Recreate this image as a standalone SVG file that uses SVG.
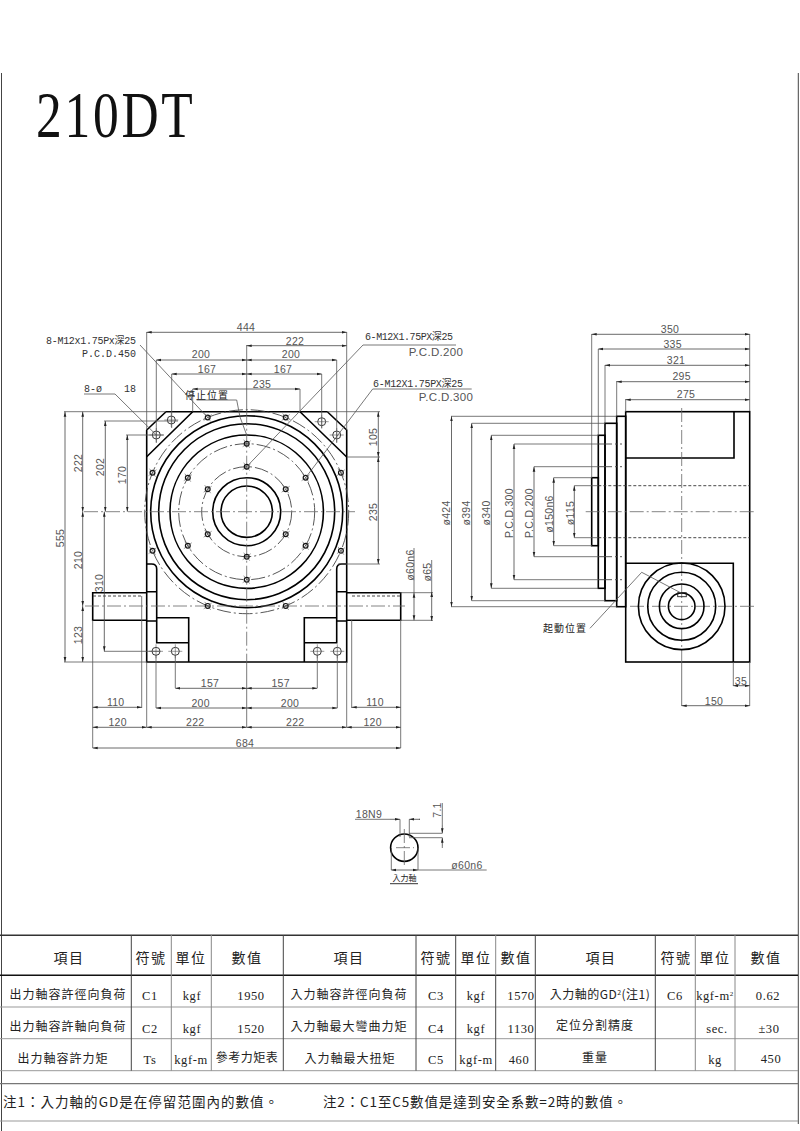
<svg xmlns="http://www.w3.org/2000/svg" xmlns:xlink="http://www.w3.org/1999/xlink" width="800" height="1131" viewBox="0 0 800 1131">
<style>
.o{fill:none;stroke:#000;stroke-width:1.6}
.t{fill:none;stroke:#555;stroke-width:.8}
.a{fill:none;stroke:#444;stroke-width:.8;marker-start:url(#ar);marker-end:url(#ar)}
.e{fill:none;stroke:#444;stroke-width:.8;marker-end:url(#ar)}
.c{fill:none;stroke:#666;stroke-width:.8;stroke-dasharray:14 3 2 3}
.h{fill:none;stroke:#333;stroke-width:.9;stroke-dasharray:3 2}
.p{fill:none;stroke:#444;stroke-width:.9;stroke-dasharray:14 3 2 3}
.dm{font-family:"Liberation Sans",sans-serif;font-size:10.5px;letter-spacing:.3px;fill:#555;text-anchor:middle}
.lb{font-family:"Liberation Mono","Noto Sans CJK TC",monospace;font-size:10px;fill:#333}
.cj{font-family:"Noto Sans CJK TC",sans-serif;fill:#222;text-anchor:middle;font-size:12px;letter-spacing:1px}
.hd{font-size:14px;letter-spacing:1.5px}
.lt{font-family:"Liberation Serif",serif;fill:#222;text-anchor:middle;font-size:12.5px;letter-spacing:.6px}
.r1{stroke:#999;stroke-width:1;fill:none}
.v1{stroke:#444;stroke-width:1;fill:none}
.v2{stroke:#888;stroke-width:1;fill:none}
</style>
<defs>
<marker id="ar" viewBox="0 -2 6 4" refX="5" refY="0" markerWidth="6" markerHeight="4" markerUnits="userSpaceOnUse" orient="auto-start-reverse"><path d="M0 -1.3L5 0L0 1.3z" fill="#222"/></marker>
<g id="hole"><circle r="2.4" fill="none" stroke="#111" stroke-width="1.2"/><path d="M-4 3L4 -3M-3 -4L3 4" stroke="#555" stroke-width=".6"/></g>
<g id="mount"><circle r="4" fill="none" stroke="#222" stroke-width=".9"/><path d="M-7 0H7M0 -7V7" stroke="#555" stroke-width=".6"/></g>
</defs>

<g id="frame">
<path class="v1" d="M1.5 73V1131"/>
<path class="v1" d="M798.3 73V1124"/>
</g>

<text id="title" transform="translate(36 137) scale(.78 1)" font-family="'Liberation Serif',serif" font-size="66" letter-spacing="3.5" fill="#111">210DT</text>

<g id="front-view">
<path class="o" d="M146.7 662V430L166 411.7H327.3L346.7 430V662Z"/>
<path class="o" d="M192.7 411.7L146.7 456.7M300 411.7L346.7 457"/>
<path class="o" d="M146.7 564H151.5Q156.7 564 156.7 569V642.7H188.7V617.7H156.7M188.7 642.7V662"/>
<path class="o" d="M346.7 564H341.9Q336.7 564 336.7 569V642.7H304.3V617.7H336.7M304.3 642.7V662"/>
<path class="o" d="M146.7 591.7H156.7M146.7 621H156.7M336.7 591.7H346.7M336.7 621H346.7"/>
<path class="o" d="M146.7 592.7H92.7V620.3H146.7M346.7 592.7H400.7V620.3H346.7"/>
<path class="h" d="M93 596H141M352 596H400"/>
<g class="o">
<circle cx="246.7" cy="511.7" r="25.7"/>
<circle cx="246.7" cy="511.7" r="34"/>
<circle cx="246.7" cy="511.7" r="76.7"/>
<circle cx="246.7" cy="511.7" r="88"/>
<circle cx="246.7" cy="511.7" r="96"/>
</g>
<g class="p">
<circle cx="246.7" cy="511.7" r="45"/>
<circle cx="246.7" cy="511.7" r="68"/>
<circle cx="246.7" cy="511.7" r="102"/>
</g>
<path class="c" d="M84 511.7H355M85 606H405M246.7 411.7V662"/>
<use xlink:href="#hole" href="#hole" x="207.7" y="417.5"/>
<use xlink:href="#hole" href="#hole" x="285.7" y="417.5"/>
<use xlink:href="#hole" href="#hole" x="152.5" y="472.7"/>
<use xlink:href="#hole" href="#hole" x="340.9" y="472.7"/>
<use xlink:href="#hole" href="#hole" x="152.5" y="550.7"/>
<use xlink:href="#hole" href="#hole" x="340.9" y="550.7"/>
<use xlink:href="#hole" href="#hole" x="207.7" y="605.9"/>
<use xlink:href="#hole" href="#hole" x="285.7" y="605.9"/>
<use xlink:href="#hole" href="#hole" x="246.7" y="443.7"/>
<use xlink:href="#hole" href="#hole" x="246.7" y="579.7"/>
<use xlink:href="#hole" href="#hole" x="187.8" y="477.7"/>
<use xlink:href="#hole" href="#hole" x="305.6" y="477.7"/>
<use xlink:href="#hole" href="#hole" x="187.8" y="545.7"/>
<use xlink:href="#hole" href="#hole" x="305.6" y="545.7"/>
<use xlink:href="#hole" href="#hole" x="246.7" y="466.7"/>
<use xlink:href="#hole" href="#hole" x="246.7" y="556.7"/>
<use xlink:href="#hole" href="#hole" x="207.7" y="489.2"/>
<use xlink:href="#hole" href="#hole" x="285.7" y="489.2"/>
<use xlink:href="#hole" href="#hole" x="207.7" y="534.2"/>
<use xlink:href="#hole" href="#hole" x="285.7" y="534.2"/>
<use xlink:href="#mount" href="#mount" x="156.3" y="435"/>
<use xlink:href="#mount" href="#mount" x="171.3" y="420"/>
<use xlink:href="#mount" href="#mount" x="321.7" y="421.7"/>
<use xlink:href="#mount" href="#mount" x="336.7" y="435"/>
<use xlink:href="#mount" href="#mount" x="156" y="651.3"/>
<use xlink:href="#mount" href="#mount" x="175.3" y="651.3"/>
<use xlink:href="#mount" href="#mount" x="317.3" y="651.3"/>
<use xlink:href="#mount" href="#mount" x="337.3" y="651.3"/>
</g>

<g id="side-view">
<rect class="o" x="625.7" y="411.7" width="124" height="250.3"/>
<rect class="o" x="616.7" y="416.3" width="9" height="190.4"/>
<rect class="o" x="605" y="423.3" width="11.7" height="177.4"/>
<rect class="o" x="598.3" y="435.3" width="6.7" height="153"/>
<rect class="o" x="591.7" y="477.7" width="6.6" height="68"/>
<path class="o" d="M625.7 458H734V411.7M625.7 563.3H733.3V662"/>
<path class="h" d="M598.3 485.7H749.7M598.3 537.7H749.7"/>
<path class="p" d="M598 444H622M598 466.7H622M598 556.7H622M598 579.7H622"/>
<path class="c" d="M585.7 511.7H756.7M681.7 408V662M630 606.3H756"/>
<g class="o">
<circle cx="681.7" cy="606.3" r="43.3"/>
<circle cx="681.7" cy="606.3" r="34"/>
<circle cx="681.7" cy="606.3" r="22.3"/>
<circle cx="681.7" cy="606.3" r="13.3"/>
</g>
<rect x="677.7" y="592.7" width="8.6" height="4" fill="none" stroke="#222" stroke-width=".9"/>
</g>

<g id="key-detail">
<circle class="o" cx="404.3" cy="847.7" r="13.7"/>
<path class="c" d="M396 847.7H414M404.3 829V866"/>
<path class="t" d="M400 819.3V837M409.3 819.3V837"/>
<path class="t" d="M355 819.3H390M419 819.3H420"/>
<path class="t" d="M409 833.3H442.3M409 837.7H442.3"/>
<path class="t" d="M442.3 803V825M442.3 846V848M391.3 848V870M418 848V870"/>
<path class="t" d="M418 870H486.7"/>
<line class="e" x1="390" y1="819.3" x2="400" y2="819.3"/>
<line class="e" x1="420" y1="819.3" x2="409.3" y2="819.3"/>
<line class="e" x1="442.3" y1="825" x2="442.3" y2="833.3"/>
<line class="e" x1="442.3" y1="846" x2="442.3" y2="837.7"/>
<line class="a" x1="391.3" y1="870" x2="418" y2="870"/>
<path d="M390 883.7H418" stroke="#333" stroke-width="1" fill="none"/>
<text class="dm" x="369" y="818" letter-spacing="1">18N9</text>
<text class="dm" transform="translate(441 810) rotate(-90)">7.1</text>
<text class="dm" x="467" y="869">ø60n6</text>
<text x="404.5" y="881" font-family="'Noto Sans CJK TC',sans-serif" font-size="8" fill="#222" text-anchor="middle">入力軸</text>
</g>

<g id="connectors">
<g class="t">
<path d="M146.7 332V430M346.7 332V430M156.3 360V443M336.7 360V443M171.7 374V428M321.7 374V428M192.7 389V411.7M300 389V411.7M246.7 345V411.7"/>
<path d="M64 411.7H166M104 421H178M126 435H164M327 411.7H380M347 457H380M338 564H380"/>
<path d="M64 662H147M104 651.3H160"/>
<path d="M92.7 620V748M400.7 620V748M141.7 596V708M351.7 620V708M146.7 662V727M346.7 662V727M156 655V708M175.3 655V688M317.3 655V688M337.3 655V708M246.7 662V727"/>
<path d="M400 592.7H433M400 620.3H433M414 548V592.7M431.7 560V592.7"/>
<path d="M591.7 334V478M598.3 349V435M605 365V423M616.7 381V416M625.7 399V412M749.7 334V411M733.3 662V686M749.7 662V706M681.7 662V706"/>
<path d="M451 416.3H616.7M471.7 423.3H605M491.3 435.3H598.3M514 444H598M534 466.7H598M553.7 477.7H592M574.3 485.7H598M574.3 537.7H598M553.7 545.7H592M534 556.7H598M514 579.7H598M491.3 588.3H598.3M471.7 600.7H605M451 606.7H616.7"/>
<path d="M140 345L207.7 417.5M84 394H115L156.3 435M196.7 400H236.7L240 417L246.7 435"/>
<path d="M456 345H363L246.7 466.7M471.7 389H372.7L305.6 477.7"/>
<path d="M590 628.3L641.7 572.3L681.7 593.3"/>
</g>
<line class="a" x1="146.7" y1="332.3" x2="346.7" y2="332.3"/>
<line class="a" x1="246.7" y1="345.7" x2="346.7" y2="345.7"/>
<line class="a" x1="156.3" y1="360" x2="246.7" y2="360"/>
<line class="a" x1="246.7" y1="360" x2="336.7" y2="360"/>
<line class="a" x1="171.7" y1="374" x2="246.7" y2="374"/>
<line class="a" x1="246.7" y1="374" x2="321.7" y2="374"/>
<line class="a" x1="192.7" y1="389" x2="300" y2="389"/>
<line class="a" x1="65" y1="411.7" x2="65" y2="662"/>
<line class="a" x1="82.7" y1="411.7" x2="82.7" y2="511.7"/>
<line class="a" x1="82.7" y1="511.7" x2="82.7" y2="606"/>
<line class="a" x1="82.7" y1="606" x2="82.7" y2="662"/>
<line class="a" x1="105.3" y1="421" x2="105.3" y2="511.7"/>
<line class="a" x1="127.3" y1="435" x2="127.3" y2="511.7"/>
<line class="a" x1="104.3" y1="511.7" x2="104.3" y2="651.3"/>
<line class="a" x1="378.3" y1="411.7" x2="378.3" y2="457"/>
<line class="a" x1="378.3" y1="457" x2="378.3" y2="564"/>
<line class="a" x1="414" y1="592.7" x2="414" y2="620.3"/>
<line class="a" x1="431.7" y1="592" x2="431.7" y2="621"/>
<line class="a" x1="175.3" y1="688.3" x2="246.7" y2="688.3"/>
<line class="a" x1="246.7" y1="688.3" x2="317.3" y2="688.3"/>
<line class="a" x1="156" y1="708" x2="246.7" y2="708"/>
<line class="a" x1="246.7" y1="708" x2="337.3" y2="708"/>
<line class="a" x1="92.7" y1="707.3" x2="141.7" y2="707.3"/>
<line class="a" x1="351.7" y1="707.3" x2="400.7" y2="707.3"/>
<line class="a" x1="92.7" y1="727.3" x2="146.7" y2="727.3"/>
<line class="a" x1="146.7" y1="727.3" x2="246.7" y2="727.3"/>
<line class="a" x1="246.7" y1="727.3" x2="346.7" y2="727.3"/>
<line class="a" x1="346.7" y1="727.3" x2="400.7" y2="727.3"/>
<line class="a" x1="92.7" y1="748" x2="400.7" y2="748"/>
<line class="a" x1="591.7" y1="334.3" x2="749.7" y2="334.3"/>
<line class="a" x1="598.3" y1="349" x2="749.7" y2="349"/>
<line class="a" x1="605" y1="365.3" x2="749.7" y2="365.3"/>
<line class="a" x1="616.7" y1="381.7" x2="749.7" y2="381.7"/>
<line class="a" x1="625.7" y1="399.7" x2="749.7" y2="399.7"/>
<line class="a" x1="451.5" y1="416.3" x2="451.5" y2="606.7"/>
<line class="a" x1="471.7" y1="423.3" x2="471.7" y2="600.7"/>
<line class="a" x1="491.3" y1="435.3" x2="491.3" y2="588.3"/>
<line class="a" x1="514" y1="444" x2="514" y2="579.7"/>
<line class="a" x1="534" y1="466.7" x2="534" y2="556.7"/>
<line class="a" x1="553.7" y1="477.7" x2="553.7" y2="545.7"/>
<line class="a" x1="574.3" y1="485.7" x2="574.3" y2="537.7"/>
<line class="a" x1="733.3" y1="685.7" x2="749.7" y2="685.7"/>
<line class="a" x1="681.7" y1="705.7" x2="749.7" y2="705.7"/>
</g>

<g id="labels">
<text class="dm" x="246" y="331">444</text>
<text class="dm" x="295" y="345">222</text>
<text class="dm" x="201" y="358">200</text>
<text class="dm" x="291" y="358">200</text>
<text class="dm" x="207" y="372.5">167</text>
<text class="dm" x="283" y="372.5">167</text>
<text class="dm" x="262" y="388">235</text>
<text class="dm" transform="translate(64 538) rotate(-90)">555</text>
<text class="dm" transform="translate(82 463) rotate(-90)">222</text>
<text class="dm" transform="translate(104 467) rotate(-90)">202</text>
<text class="dm" transform="translate(126 475) rotate(-90)">170</text>
<text class="dm" transform="translate(82 560) rotate(-90)">210</text>
<text class="dm" transform="translate(82 635) rotate(-90)">123</text>
<text class="dm" transform="translate(103 583) rotate(-90)">310</text>
<text class="dm" transform="translate(377 437) rotate(-90)">105</text>
<text class="dm" transform="translate(377 512) rotate(-90)">235</text>
<text class="dm" transform="translate(414 565) rotate(-90)">ø60n6</text>
<text class="dm" transform="translate(431 572) rotate(-90)">ø65</text>
<text class="dm" x="210" y="687">157</text>
<text class="dm" x="280.7" y="687">157</text>
<text class="dm" x="200.7" y="706.5">200</text>
<text class="dm" x="290" y="706.5">200</text>
<text class="dm" x="115.7" y="706">110</text>
<text class="dm" x="375" y="706">110</text>
<text class="dm" x="117.7" y="726">120</text>
<text class="dm" x="195.3" y="726">222</text>
<text class="dm" x="295.3" y="726">222</text>
<text class="dm" x="372.7" y="726">120</text>
<text class="dm" x="245" y="747">684</text>
<text class="dm" x="670" y="333">350</text>
<text class="dm" x="672.7" y="347.5">335</text>
<text class="dm" x="676" y="364">321</text>
<text class="dm" x="681.7" y="380">295</text>
<text class="dm" x="686" y="398">275</text>
<text class="dm" transform="translate(450 513) rotate(-90)">ø424</text>
<text class="dm" transform="translate(470 513) rotate(-90)">ø394</text>
<text class="dm" transform="translate(490 513) rotate(-90)">ø340</text>
<text class="dm" transform="translate(513 513) rotate(-90)">P.C.D.300</text>
<text class="dm" transform="translate(533 513) rotate(-90)">P.C.D.200</text>
<text class="dm" transform="translate(553 514) rotate(-90)">ø150n6</text>
<text class="dm" transform="translate(574 513) rotate(-90)">ø115</text>
<text class="dm" x="741" y="685">35</text>
<text class="dm" x="714" y="705">150</text>
<text class="lb" x="46" y="344" textLength="90">8-M12x1.75Px深25</text>
<text class="lb" x="136" y="356.7" text-anchor="end">P.C.D.450</text>
<text class="lb" x="84" y="391.5">8-ø</text>
<text class="lb" x="124" y="391.5">18</text>
<text class="lb" x="365" y="340" textLength="88">6-M12X1.75PX深25</text>
<text class="dm" x="436" y="356" style="font-size:11.5px">P.C.D.200</text>
<text class="lb" x="373" y="386.7" textLength="90">6-M12X1.75PX深25</text>
<text class="dm" x="446" y="401" style="font-size:11.5px">P.C.D.300</text>
<text class="cj" x="207" y="399" style="font-size:10px;letter-spacing:1px">停止位置</text>
<text class="cj" x="565" y="632" style="font-size:10px;letter-spacing:1px">起動位置</text>
</g>

<g id="spec-table">
<path d="M0 935.3H798" stroke="#333" stroke-width="1.5"/>
<path d="M0 975.3H798" stroke="#111" stroke-width="1.6"/>
<path class="r1" d="M0 1007H798M0 1038.7H798M0 1070.7H798M0 1121H798"/>
<path d="M0 1083.7H798" stroke="#777" stroke-width="1.2"/>
<path class="v1" d="M131.3 935V1070.7M283.3 935V1070.7M416 935V1070.7M535.3 935V1070.7M655.3 935V1070.7M455.7 935V1070.7M495.7 975V1070.7"/>
<path class="v2" d="M171.3 935V1070.7M211.3 935V1070.7M495.7 935V975M695.3 935V1070.7M735 935V1070.7"/>
<text class="cj hd" x="69" y="963">項目</text>
<text class="cj hd" x="151" y="963">符號</text>
<text class="cj hd" x="191" y="963">單位</text>
<text class="cj hd" x="247" y="963">數值</text>
<text class="cj hd" x="349" y="963">項目</text>
<text class="cj hd" x="436" y="963">符號</text>
<text class="cj hd" x="476" y="963">單位</text>
<text class="cj hd" x="516" y="963">數值</text>
<text class="cj hd" x="601" y="963">項目</text>
<text class="cj hd" x="676" y="963">符號</text>
<text class="cj hd" x="715" y="963">單位</text>
<text class="cj hd" x="766" y="963">數值</text>
<text class="cj" x="68" y="999">出力軸容許徑向負荷</text>
<text class="cj" x="68" y="1031">出力軸容許軸向負荷</text>
<text class="cj" x="63" y="1063">出力軸容許力矩</text>
<text class="lt" x="150" y="1000">C1</text>
<text class="lt" x="150" y="1033">C2</text>
<text class="lt" x="150" y="1064">Ts</text>
<text class="lt" x="192" y="1000">kgf</text>
<text class="lt" x="192" y="1033">kgf</text>
<text class="lt" x="191" y="1064">kgf-m</text>
<text class="lt" x="251" y="1000">1950</text>
<text class="lt" x="251" y="1033">1520</text>
<text class="cj" x="247" y="1062" style="letter-spacing:.5px">參考力矩表</text>
<text class="cj" x="349" y="999">入力軸容許徑向負荷</text>
<text class="cj" x="349" y="1031">入力軸最大彎曲力矩</text>
<text class="cj" x="350" y="1063">入力軸最大扭矩</text>
<text class="lt" x="436" y="1000">C3</text>
<text class="lt" x="436" y="1033">C4</text>
<text class="lt" x="436" y="1064">C5</text>
<text class="lt" x="476" y="1000">kgf</text>
<text class="lt" x="476" y="1033">kgf</text>
<text class="lt" x="476" y="1064">kgf-m</text>
<text class="lt" x="521" y="1000">1570</text>
<text class="lt" x="521" y="1033">1130</text>
<text class="lt" x="519" y="1064">460</text>
<text class="cj" x="600" y="999" style="letter-spacing:.5px">入力軸的GD<tspan font-size="7" dy="-4">2</tspan><tspan dy="4">(注1)</tspan></text>
<text class="cj" x="595" y="1030">定位分割精度</text>
<text class="cj" x="595" y="1062">重量</text>
<text class="lt" x="675" y="1000">C6</text>
<text class="lt" x="715" y="1000">kgf-m<tspan font-size="7" dy="-4">2</tspan></text>
<text class="lt" x="717" y="1033">sec.</text>
<text class="lt" x="715" y="1064">kg</text>
<text class="lt" x="768" y="1000">0.62</text>
<text class="lt" x="769" y="1033">±30</text>
<text class="lt" x="771" y="1063">450</text>
<text class="cj" x="3" y="1106.5" style="text-anchor:start;font-size:13.5px;letter-spacing:0" textLength="275">注1：入力軸的GD是在停留范圍內的數值。</text>
<text class="cj" x="323" y="1106.5" style="text-anchor:start;font-size:13.5px;letter-spacing:0" textLength="304">注2：C1至C5數值是達到安全系數=2時的數值。</text>
</g>
</svg>
